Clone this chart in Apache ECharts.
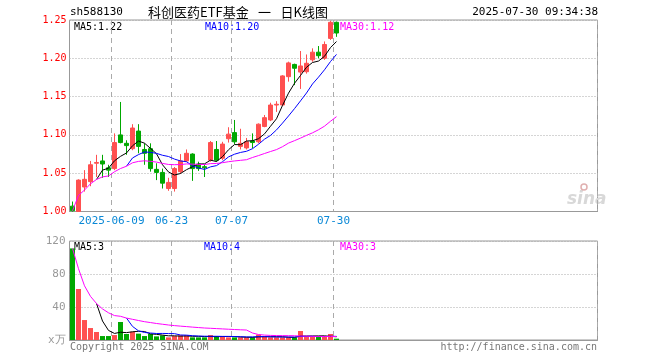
<!DOCTYPE html>
<html><head><meta charset="utf-8">
<script src="https://cdn.jsdelivr.net/npm/echarts@6/dist/echarts.min.js"></script>
<style>html,body{margin:0;padding:0;background:#fff}#c{width:660px;height:360px}</style>
</head><body><div id="c"></div>
<script>
const dates = ['2025-05-28','2025-05-29','2025-05-30','2025-06-03','2025-06-04','2025-06-05','2025-06-06',
'2025-06-09','2025-06-10','2025-06-11','2025-06-12','2025-06-13','2025-06-16','2025-06-17','2025-06-18','2025-06-19','2025-06-20',
'2025-06-23','2025-06-24','2025-06-25','2025-06-26','2025-06-27','2025-06-30','2025-07-01','2025-07-02','2025-07-03','2025-07-04',
'2025-07-07','2025-07-08','2025-07-09','2025-07-10','2025-07-11','2025-07-14','2025-07-15','2025-07-16','2025-07-17','2025-07-18',
'2025-07-21','2025-07-22','2025-07-23','2025-07-24','2025-07-25','2025-07-28','2025-07-29','2025-07-30'];
const opens  = [1.007,1.000,1.032,1.039,1.063,1.066,1.057,1.056,1.100,1.089,1.082,1.105,1.081,1.082,1.055,1.051,1.030,1.030,1.052,1.066,1.075,1.062,1.0585,1.067,1.081,1.0695,1.095,1.103,1.085,1.083,1.092,1.091,1.111,1.1195,1.139,1.139,1.176,1.192,1.182,1.1825,1.198,1.208,1.200,1.226,1.247];
const closes = [1.001,1.041,1.042,1.061,1.064,1.062,1.054,1.090,1.090,1.086,1.109,1.085,1.076,1.056,1.051,1.037,1.038,1.056,1.066,1.076,1.056,1.056,1.057,1.090,1.067,1.088,1.101,1.091,1.089,1.091,1.090,1.114,1.1225,1.139,1.140,1.177,1.194,1.187,1.190,1.1935,1.208,1.2034,1.218,1.247,1.233];
const lows   = [1.000,1.000,1.026,1.033,1.045,1.044,1.045,1.054,1.089,1.074,1.080,1.076,1.061,1.052,1.041,1.030,1.027,1.026,1.049,1.065,1.040,1.053,1.045,1.065,1.065,1.067,1.090,1.088,1.081,1.081,1.0825,1.089,1.110,1.118,1.130,1.138,1.1695,1.165,1.160,1.180,1.1955,1.200,1.198,1.224,1.228];
const highs  = [1.013,1.042,1.054,1.066,1.074,1.074,1.061,1.102,1.143,1.093,1.114,1.114,1.089,1.089,1.063,1.056,1.044,1.058,1.075,1.081,1.076,1.065,1.061,1.092,1.092,1.091,1.110,1.1195,1.108,1.096,1.102,1.115,1.126,1.142,1.144,1.178,1.1956,1.193,1.2095,1.205,1.213,1.216,1.222,1.249,1.248];
const volumes = [111,61.8,24.2,14.5,9.7,4.8,4.8,6,21.8,7.3,10,7.7,4.8,7.3,4.4,5.6,3.2,4.8,5.6,5.6,3.2,3.2,3.2,6,4.8,4,3.2,3.2,3.2,3.2,3.2,6.5,4,3.2,3.2,3.2,3.2,3.2,10.9,3.6,3.6,3.6,3.6,7.3,1.6];
const tickDates  = ['2025-06-09','2025-06-23','2025-07-07','2025-07-30'];
const tickLabels = ['2025-06-09','06-23','07-07','07-30'];
const priceMaLabels = ['MA5:1.22','MA10:1.20','MA30:1.12'];
const volMaLabels = ['MA5:3','MA10:4','MA30:3'];
const titleCode = 'sh588130';
const titleName = '科创医药ETF基金\u2002 一 \u2002日K线图';
const titleTime = '2025-07-30 09:34:38';
const SLOTS = 88;

const cats = dates.slice();
while (cats.length < SLOTS) cats.push('pad' + cats.length);

function ma(arr, n, partial) {
  return arr.map((v, i) => {
    if (i < n - 1 && !partial) return '-';
    const s = Math.max(0, i - n + 1);
    let sum = 0;
    for (let k = s; k <= i; k++) sum += arr[k];
    return +(sum / (i - s + 1)).toFixed(4);
  });
}
const UP = '#ff5050', DOWN = '#00a800';
const candle = dates.map((d, i) => [opens[i], closes[i], lows[i], highs[i]]);
const volData = volumes.map((v, i) => ({ value: v, itemStyle: { color: closes[i] >= opens[i] ? UP : DOWN } }));
const tickIdx = tickDates.map(d => dates.indexOf(d));
const isTick = (i) => tickIdx.indexOf(i) >= 0;
const FONT = '"DejaVu Sans Mono", monospace';

const chart = echarts.init(document.getElementById('c'), null, { renderer: 'canvas' });
const xCommon = {
  type: 'category', data: cats, boundaryGap: true,
  axisLine: { show: true, lineStyle: { color: '#999' } },
  axisTick: { show: false },
  splitLine: { show: true, interval: (i) => isTick(i), lineStyle: { color: '#aaa', type: [5, 4], width: 1 } }
};
const option = {
  animation: false,
  textStyle: { fontFamily: FONT },
  grid: [
    { left: 69.5, right: 62.5, top: 20, height: 191.5, show: true, borderColor: '#999', borderWidth: 1 },
    { left: 69.5, right: 62.5, top: 241, height: 99, show: true, borderColor: '#999', borderWidth: 1 }
  ],
  xAxis: [
    Object.assign({}, xCommon, { gridIndex: 0,
      axisLabel: { show: true, interval: (i) => isTick(i), color: '#0a88d6', fontFamily: FONT, fontSize: 11, margin: 4,
        padding: [0, 6, 0, 0],
        formatter: (v, i) => { const k = tickDates.indexOf(v); return k >= 0 ? tickLabels[k] : ''; } } }),
    Object.assign({}, xCommon, { gridIndex: 1, axisLabel: { show: false } })
  ],
  yAxis: [
    { gridIndex: 0, min: 1.00, max: 1.25, interval: 0.05, position: 'left',
      axisLine: { show: false }, axisTick: { show: false },
      axisLabel: { color: '#ff0000', fontFamily: FONT, fontSize: 10, margin: 3, formatter: v => v.toFixed(2) },
      splitLine: { show: true, lineStyle: { color: '#aaa', type: [1, 2] } } },
    { gridIndex: 1, min: 0, max: 120, interval: 40, position: 'left',
      axisLine: { show: false }, axisTick: { show: false },
      axisLabel: { color: '#999', fontFamily: FONT, fontSize: 11, margin: 4, formatter: v => v === 0 ? 'x万' : String(v) },
      splitLine: { show: true, lineStyle: { color: '#aaa', type: [1, 2] } } }
  ],
  series: [
    { type: 'candlestick', xAxisIndex: 0, yAxisIndex: 0, data: candle, barWidth: 5,
      itemStyle: { color: UP, color0: DOWN, borderColor: UP, borderColor0: DOWN, borderWidth: 1 } },
    { type: 'line', xAxisIndex: 0, yAxisIndex: 0, data: ma(closes, 5, false), symbol: 'none', lineStyle: { color: '#000', width: 1 } },
    { type: 'line', xAxisIndex: 0, yAxisIndex: 0, data: ma(closes, 10, false), symbol: 'none', lineStyle: { color: '#0000ff', width: 1 } },
    { type: 'line', xAxisIndex: 0, yAxisIndex: 0, data: ma(closes, 30, true), symbol: 'none', lineStyle: { color: '#ff00ff', width: 1 } },
    { type: 'bar', xAxisIndex: 1, yAxisIndex: 1, data: volData, barWidth: 5 },
    { type: 'line', xAxisIndex: 1, yAxisIndex: 1, data: ma(volumes, 5, false), symbol: 'none', lineStyle: { color: '#000', width: 1 } },
    { type: 'line', xAxisIndex: 1, yAxisIndex: 1, data: ma(volumes, 10, false), symbol: 'none', lineStyle: { color: '#0000ff', width: 1 } },
    { type: 'line', xAxisIndex: 1, yAxisIndex: 1, data: ma(volumes, 30, true), symbol: 'none', lineStyle: { color: '#ff00ff', width: 1 } }
  ],
  graphic: [
    { type: 'text', x: 70, y: 12, style: { text: titleCode, fill: '#000', font: '11px ' + FONT, verticalAlign: 'middle' } },
    { type: 'text', x: 238, y: 12, style: { text: titleName, fill: '#000', font: '13px "Noto Sans CJK SC", sans-serif', align: 'center', verticalAlign: 'middle' } },
    { type: 'text', x: 598, y: 12, style: { text: titleTime, fill: '#000', font: '11px ' + FONT, align: 'right', verticalAlign: 'middle' } },
    { type: 'text', x: 74, y: 27, style: { text: priceMaLabels[0], fill: '#000', font: '10px ' + FONT, verticalAlign: 'middle' } },
    { type: 'text', x: 205, y: 27, style: { text: priceMaLabels[1], fill: '#0000ff', font: '10px ' + FONT, verticalAlign: 'middle' } },
    { type: 'text', x: 340, y: 27, style: { text: priceMaLabels[2], fill: '#ff00ff', font: '10px ' + FONT, verticalAlign: 'middle' } },
    { type: 'text', x: 74, y: 247, style: { text: volMaLabels[0], fill: '#000', font: '10px ' + FONT, verticalAlign: 'middle' } },
    { type: 'text', x: 204, y: 247, style: { text: volMaLabels[1], fill: '#0000ff', font: '10px ' + FONT, verticalAlign: 'middle' } },
    { type: 'text', x: 340, y: 247, style: { text: volMaLabels[2], fill: '#ff00ff', font: '10px ' + FONT, verticalAlign: 'middle' } },
    { type: 'text', x: 70, y: 347, style: { text: 'Copyright 2025 SINA.COM', fill: '#777', font: '10px ' + FONT, verticalAlign: 'middle' } },
    { type: 'text', x: 597, y: 347, style: { text: 'http://finance.sina.com.cn', fill: '#777', font: '10px ' + FONT, align: 'right', verticalAlign: 'middle' } },
    { type: 'text', x: 567, y: 200, style: { text: 'sina', fill: '#d8d8d8', font: 'italic bold 17px "DejaVu Sans", sans-serif', verticalAlign: 'middle' } },
    { type: 'circle', shape: { cx: 584, cy: 187, r: 3 }, style: { fill: 'none', stroke: '#e0b0b0', lineWidth: 1.5 } }
  ]
};
chart.setOption(option);
</script></body></html>
